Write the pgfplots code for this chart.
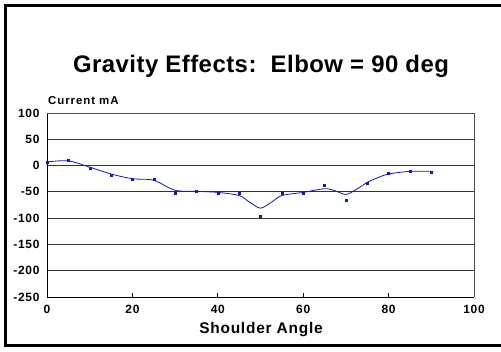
\documentclass[border=0pt]{standalone}
\usepackage{fontspec}
\setmainfont{Liberation Sans}
\usepackage{pgfplots}
\pgfplotsset{compat=1.18}
\definecolor{curveblue}{RGB}{20,20,200}
\begin{document}
\begin{tikzpicture}[x=1bp,y=1bp]
\path[use as bounding box] (0,0) rectangle (501,351);
\draw[line width=3bp] (502,345.5) -- (5.5,345.5) -- (5.5,5.5) -- (502,5.5);
\begin{axis}[
  at={(47bp,54bp)}, anchor=south west,
  scale only axis, width=427bp, height=184bp,
  xmin=0, xmax=100, ymin=-250, ymax=100,
  xtick={0,20,40,60,80,100},
  ytick={-250,-200,-150,-100,-50,0,50,100},
  axis x line=bottom, axis y line=left,
  axis line style={-, black, line width=1bp},
  ymajorgrids, grid style={gray!40!black, line width=0.9bp},
  xtick pos=bottom, ytick style={draw=none},
  xtick style={black, line width=0.8bp},
  major tick length=4bp,
  xtick align=inside,
  /pgf/number format/assume math mode=true,
  tick label style={font=\bfseries\fontsize{12}{13}\selectfont\addfontfeature{LetterSpace=6}},
  xticklabel style={yshift=-5bp},
  yticklabel style={xshift=-2bp},
  clip=false,
]
\draw[gray!60!black, line width=1bp] (rel axis cs:0,1) -- (rel axis cs:1,1) -- (rel axis cs:1,0);
\addplot[curveblue, line width=0.8bp, smooth, tension=0.5] coordinates {
 (0,7) (5,9) (10,-3) (15,-16) (20,-25) (25,-28) (30,-47) (35,-49) (40,-51)
 (45,-57) (47.5,-70) (50,-81) (52.5,-70) (55,-57) (60,-51) (65,-44) (67.5,-48)
 (70,-55) (72.5,-45) (75,-32) (77.5,-23) (80,-16) (85,-11) (90,-11)
};
\addplot[only marks, mark=square*, mark size=1bp, curveblue] coordinates {
 (0,7) (5,10) (10,-5) (15,-18) (20,-26) (25,-25) (30,-53) (35,-48) (40,-53)
 (45,-52) (50,-97) (55,-52) (60,-53) (65,-37) (70,-66) (75,-33) (80,-15)
 (85,-11) (90,-12)
};
\end{axis}
\node[anchor=base, font=\bfseries\fontsize{24}{28}\selectfont\addfontfeature{LetterSpace=2}] at (261,279) {Gravity Effects:\ \ Elbow = 90 deg};
\node[anchor=base west, font=\bfseries\fontsize{11.5}{12}\selectfont\addfontfeature{LetterSpace=8}, inner sep=0] at (48,247) {Current mA};
\node[anchor=base, font=\bfseries\fontsize{15.5}{16}\selectfont\addfontfeature{LetterSpace=5}, inner sep=0] at (261,18) {Shoulder Angle};
\end{tikzpicture}
\end{document}
